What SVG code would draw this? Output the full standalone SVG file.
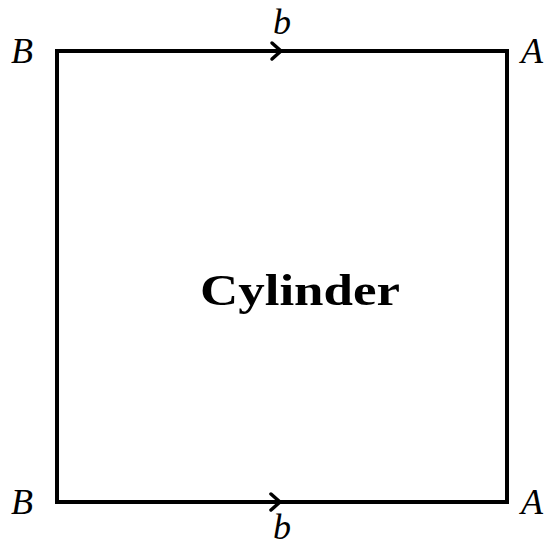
<svg xmlns="http://www.w3.org/2000/svg" width="551" height="548" viewBox="0 0 551 548">
<style>
.edge{stroke:#000;stroke-width:4;fill:none;stroke-linecap:square;stroke-linejoin:miter}
.chev{stroke:#000;stroke-width:3.5;fill:none;stroke-linecap:round;stroke-linejoin:round}
.lbl{font-family:"Liberation Serif",serif;font-style:italic;font-size:36px;fill:#000}
.title{font-family:"Liberation Serif",serif;font-weight:bold;font-size:44px;fill:#000}
</style>
<rect width="551" height="548" fill="#fff"/>
<g id="connectors">
<path class="edge" d="M57,51 H507 V502 H57 Z"/>
<path class="chev" d="M272,43 L281,51 L272,59"/>
<path class="chev" d="M271,494 L280,502 L271,510"/>
</g>
<g id="B-top"><text class="lbl" x="11" y="63">B</text></g>
<g id="A-top"><text class="lbl" x="521" y="63">A</text></g>
<g id="B-bottom"><text class="lbl" x="11" y="514">B</text></g>
<g id="A-bottom"><text class="lbl" x="521" y="514">A</text></g>
<g id="b-top"><text class="lbl" x="273" y="34">b</text></g>
<g id="b-bottom"><text class="lbl" x="273" y="539">b</text></g>
<g id="cylinder"><text class="title" x="200" y="305" textLength="200" lengthAdjust="spacingAndGlyphs">Cylinder</text></g>
</svg>
